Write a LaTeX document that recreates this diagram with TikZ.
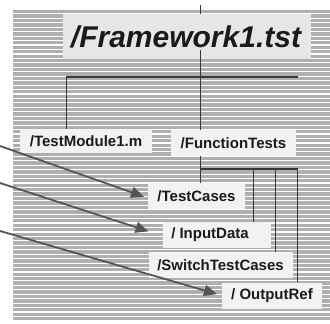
\documentclass[tikz,border=0pt]{standalone}
\usepackage{fontspec}
\setmainfont{Liberation Sans}
\usetikzlibrary{arrows.meta}
\definecolor{stripegray}{HTML}{AFAFAF}
\definecolor{boxfill}{HTML}{F2F2F2}
\definecolor{titlefill}{HTML}{E6E6E6}
\definecolor{linkgray}{HTML}{383838}
\definecolor{arrowgray}{HTML}{555555}
\definecolor{inkblack}{HTML}{1A1A1A}
\begin{document}
\begin{tikzpicture}[x=1pt,y=-1pt,
  folder/.style={fill=boxfill, text=inkblack, inner sep=0pt,
    font=\fontsize{15}{15}\selectfont\bfseries},
  link/.style={draw=linkgray, line width=1pt},
  bar/.style={draw=linkgray, line width=1.4pt},
  ptr/.style={draw=arrowgray, line width=1.8pt,
    -{Triangle[length=13pt,width=11pt]}}]
  \useasboundingbox (0,0) rectangle (330,324);
  \fill[white] (0,0) rectangle (330,324);

  % striped backdrop
  \foreach \i in {0,...,69}
    \fill[stripegray] (13,{10+4.45*\i}) rectangle (330,{13.3+4.45*\i});

  % title panel
  \node[fill=titlefill, minimum width=248pt, minimum height=45pt, inner sep=0pt]
    (titlebox) at (187,36.5) {};
  \coordinate (topend) at (200,5);

  % folder boxes
  \node[folder, minimum width=132pt, minimum height=24pt] (tm)  at (86,141)    {/TestModule1.m};
  \node[folder, minimum width=125pt, minimum height=26pt] (ft)  at (233.5,143) {/FunctionTests};
  \node[folder, minimum width=97pt,  minimum height=26pt] (tc)  at (196.5,196) {/TestCases};
  \node[folder, minimum width=108pt, minimum height=26pt] (id)  at (217,235)   {/ InputData\hspace*{14pt}};
  \node[folder, minimum width=144pt, minimum height=26pt] (stc) at (220.5,265) {/SwitchTestCases};
  \node[folder, minimum width=100pt, minimum height=26pt] (or)  at (272,295.5) {/ OutputRef};

  % main trunk and top bar
  \draw[link] (topend) -- (topend |- ft.north);
  \coordinate (barL) at (66,77);
  \coordinate (barR) at (298,77);
  \draw[bar] (barR) -- (barL);
  \draw[link] (barL) -- (barL |- tm.north);

  % title text over the trunk
  \node[fill=titlefill, text=inkblack, inner xsep=3pt, inner ysep=0pt,
    text height=33pt, text depth=3pt, anchor=base,
    font=\fontsize{30}{30}\selectfont\bfseries\itshape]
    (title) at (186,47) {/Framework1.tst};

  % branches below FunctionTests
  \coordinate (ftout) at (200,156);
  \coordinate (jL) at (200,169);
  \coordinate (jR) at (298,169);
  \coordinate (d1) at (253,169);
  \coordinate (d2) at (275,169);
  \coordinate (d3) at (297,169);
  \draw[link] (ftout) -- (ftout |- tc.north);
  \draw[bar] (jL) -- (jR);
  \draw[link] (d1) -- (d1 |- id.north);
  \draw[link] (d2) -- (d2 |- stc.north);
  \draw[link] (d3) -- (d3 |- or.north);

  % incoming pointers
  \coordinate (p1) at (0,146);
  \coordinate (p2) at (0,183);
  \coordinate (p3) at (0,231);
  \draw[ptr, shorten >=4pt]  (p1) -- ([yshift=-2pt]tc.west);
  \draw[ptr, shorten >=15pt] (p2) -- ([yshift=-1pt]id.west);
  \draw[ptr, shorten >=5pt]  (p3) -- (or.west);
\end{tikzpicture}
\end{document}
